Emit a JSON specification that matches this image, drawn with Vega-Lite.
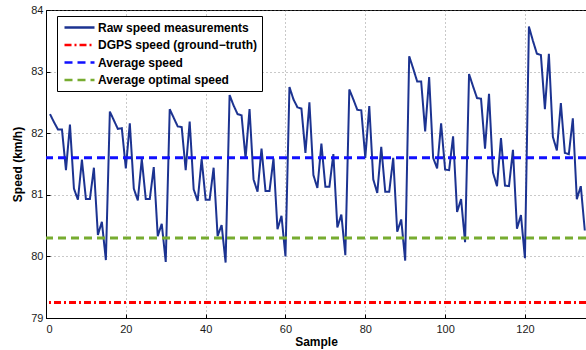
{
  "$schema": "https://vega.github.io/schema/vega-lite/v6.json",
  "width": 540,
  "height": 308,
  "autosize": {"type": "none"},
  "padding": {"left": 46, "top": 10, "right": 0, "bottom": 32},
  "background": "white",
  "config": {
    "font": "Liberation Sans",
    "view": {"stroke": "black", "strokeWidth": 1},
    "axis": {
      "domainColor": "black",
      "tickColor": "black",
      "labelColor": "#1a1a1a",
      "labelFontSize": 11,
      "titleFontSize": 12,
      "titleFontWeight": "bold",
      "titleColor": "black",
      "gridColor": "#777777",
      "gridDash": [1, 3],
      "gridWidth": 0.8,
      "tickSize": -4,
      "labelOverlap": false
    },
    "legend": {
      "orient": "none",
      "legendX": 11,
      "legendY": 6,
      "title": null,
      "labelFont": "Liberation Sans",
      "labelFontSize": 12,
      "labelFontWeight": "bold",
      "labelColor": "black",
      "labelLimit": 300,
      "symbolType": "M-3,0H3",
      "symbolSize": 100,
      "symbolStrokeWidth": 2.5,
      "symbolFillColor": "transparent",
      "strokeColor": "black",
      "fillColor": "white",
      "padding": 5,
      "rowPadding": 4.5,
      "labelOffset": 12,
      "symbolOffset": 11,
      "cornerRadius": 0
    }
  },
  "datasets": {
    "raw": [
      {"n":1,"v":82.31},{"n":2,"v":82.18},{"n":3,"v":82.06},{"n":4,"v":82.06},{"n":5,"v":81.40},{"n":6,"v":82.14},{"n":7,"v":81.10},{"n":8,"v":80.92},{"n":9,"v":81.57},{"n":10,"v":80.93},{"n":11,"v":80.93},{"n":12,"v":81.44},{"n":13,"v":80.35},{"n":14,"v":80.56},{"n":15,"v":79.94},
      {"n":16,"v":82.35},{"n":17,"v":82.21},{"n":18,"v":82.07},{"n":19,"v":82.08},{"n":20,"v":81.43},{"n":21,"v":82.16},{"n":22,"v":81.10},{"n":23,"v":80.91},{"n":24,"v":81.58},{"n":25,"v":80.93},{"n":26,"v":80.93},{"n":27,"v":81.45},{"n":28,"v":80.33},{"n":29,"v":80.53},{"n":30,"v":79.91},
      {"n":31,"v":82.39},{"n":32,"v":82.25},{"n":33,"v":82.11},{"n":34,"v":82.10},{"n":35,"v":81.40},{"n":36,"v":82.19},{"n":37,"v":81.09},{"n":38,"v":80.90},{"n":39,"v":81.58},{"n":40,"v":80.92},{"n":41,"v":80.92},{"n":42,"v":81.44},{"n":43,"v":80.33},{"n":44,"v":80.51},{"n":45,"v":79.90},
      {"n":46,"v":82.62},{"n":47,"v":82.45},{"n":48,"v":82.31},{"n":49,"v":82.29},{"n":50,"v":81.59},{"n":51,"v":82.39},{"n":52,"v":81.25},{"n":53,"v":81.05},{"n":54,"v":81.75},{"n":55,"v":81.06},{"n":56,"v":81.06},{"n":57,"v":81.59},{"n":58,"v":80.44},{"n":59,"v":80.66},{"n":60,"v":80.00},
      {"n":61,"v":82.75},{"n":62,"v":82.55},{"n":63,"v":82.42},{"n":64,"v":82.40},{"n":65,"v":81.68},{"n":66,"v":82.50},{"n":67,"v":81.32},{"n":68,"v":81.11},{"n":69,"v":81.83},{"n":70,"v":81.13},{"n":71,"v":81.13},{"n":72,"v":81.66},{"n":73,"v":80.47},{"n":74,"v":80.68},{"n":75,"v":80.02},
      {"n":76,"v":82.71},{"n":77,"v":82.55},{"n":78,"v":82.38},{"n":79,"v":82.37},{"n":80,"v":81.60},{"n":81,"v":82.44},{"n":82,"v":81.25},{"n":83,"v":81.03},{"n":84,"v":81.78},{"n":85,"v":81.05},{"n":86,"v":81.05},{"n":87,"v":81.60},{"n":88,"v":80.40},{"n":89,"v":80.60},{"n":90,"v":79.93},
      {"n":91,"v":83.25},{"n":92,"v":83.05},{"n":93,"v":82.84},{"n":94,"v":82.84},{"n":95,"v":82.03},{"n":96,"v":82.91},{"n":97,"v":81.60},{"n":98,"v":81.43},{"n":99,"v":82.16},{"n":100,"v":81.41},{"n":101,"v":81.40},{"n":102,"v":81.95},{"n":103,"v":80.72},{"n":104,"v":80.93},{"n":105,"v":80.23},
      {"n":106,"v":82.96},{"n":107,"v":82.76},{"n":108,"v":82.57},{"n":109,"v":82.56},{"n":110,"v":81.75},{"n":111,"v":82.64},{"n":112,"v":81.36},{"n":113,"v":81.14},{"n":114,"v":81.92},{"n":115,"v":81.15},{"n":116,"v":81.14},{"n":117,"v":81.73},{"n":118,"v":80.45},{"n":119,"v":80.67},{"n":120,"v":79.97},
      {"n":121,"v":83.73},{"n":122,"v":83.50},{"n":123,"v":83.29},{"n":124,"v":83.27},{"n":125,"v":82.39},{"n":126,"v":83.29},{"n":127,"v":81.94},{"n":128,"v":81.72},{"n":129,"v":82.49},{"n":130,"v":81.68},{"n":131,"v":81.66},{"n":132,"v":82.24},{"n":133,"v":80.93},{"n":134,"v":81.14},{"n":135,"v":80.42}
    ],
    "refs": [
      {"series": "DGPS speed (ground\u2212truth)", "v": 79.25},
      {"series": "Average speed", "v": 81.6},
      {"series": "Average optimal speed", "v": 80.3}
    ]
  },
  "layer": [
    {
      "data": {"name": "raw"},
      "mark": {"type": "line", "strokeWidth": 2, "clip": true},
      "encoding": {
        "x": {"field": "n", "type": "quantitative", "scale": {"domain": [0, 135.3], "nice": false, "zero": false},
              "axis": {"title": "Sample", "values": [0, 20, 40, 60, 80, 100, 120], "titlePadding": 2, "labelPadding": 9}},
        "y": {"field": "v", "type": "quantitative", "scale": {"domain": [79, 84], "nice": false, "zero": false},
              "axis": {"title": "Speed (km/h)", "values": [79, 79.5, 80, 80.5, 81, 81.5, 82, 82.5, 83, 83.5, 84], "format": "~g", "titlePadding": 6, "labelPadding": 7}},
        "color": {"datum": "Raw speed measurements", "type": "nominal"},
        "strokeDash": {"datum": "Raw speed measurements", "type": "nominal"}
      }
    },
    {
      "data": {"name": "refs"},
      "mark": {"type": "rule", "strokeWidth": 3},
      "encoding": {
        "y": {"field": "v", "type": "quantitative"},
        "color": {"field": "series", "type": "nominal",
          "scale": {"domain": ["Raw speed measurements", "DGPS speed (ground\u2212truth)", "Average speed", "Average optimal speed"],
                    "range": ["#1c3391", "#ff0000", "#1010ff", "#77ac30"]}},
        "strokeDash": {"field": "series", "type": "nominal",
          "scale": {"domain": ["Raw speed measurements", "DGPS speed (ground\u2212truth)", "Average speed", "Average optimal speed"],
                    "range": [[1, 0], [7, 3, 2, 3], [8, 5], [8, 5]]}}
      }
    }
  ]
}
